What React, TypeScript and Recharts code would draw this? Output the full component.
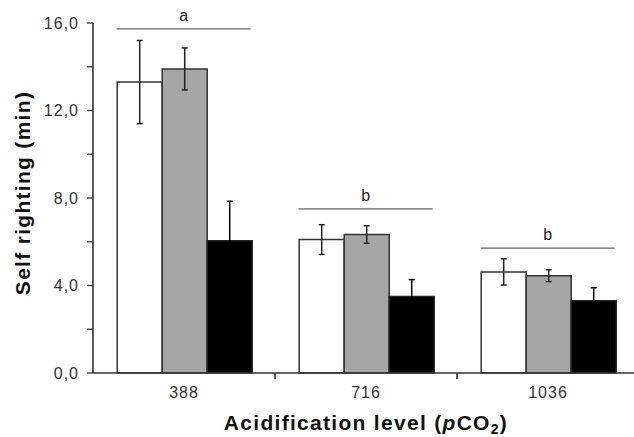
import React from 'react';
import { BarChart, Bar, XAxis, YAxis, ErrorBar, ReferenceLine, Label } from 'recharts';

const categories = ['388', '716', '1036'];
const categoryCenters = [0.5, 1.5, 2.5];
const whiteValues = [13.3, 6.1, 4.62];
const whiteErrors = [1.9, 0.68, 0.6];
const grayValues = [13.9, 6.33, 4.45];
const grayErrors = [0.96, 0.4, 0.27];
const blackValues = [6.05, 3.5, 3.3];
const blackErrors = [1.8, 0.77, 0.6];
const yTicks = [0, 2, 4, 6, 8, 10, 12, 14, 16];
const groupBoundaries = [1, 2];
const sigLabels = ['a', 'b', 'b'];
const sigHeights = [15.73, 7.5, 5.71];
const sigStart = [0.13, 1.13, 2.13];
const sigEnd = [0.866, 1.866, 2.866];

const data = categories.map((c, i) => ({
  category: c,
  pos: categoryCenters[i],
  white: whiteValues[i],
  whiteErr: whiteErrors[i],
  gray: grayValues[i],
  grayErr: grayErrors[i],
  black: blackValues[i],
  blackErr: blackErrors[i],
}));

const FONT = '"Liberation Sans", Arial, sans-serif';
const tickStyle = { fill: '#333', fontSize: 16, fontFamily: FONT, letterSpacing: 1.0 };

const fmtY = (v: number) => (v % 4 === 0 ? v.toFixed(1).replace('.', ',') : '');

const YTitle = (props: any) => {
  const vb = props.viewBox || { x: 0, y: 23, width: 93, height: 350 };
  const cx = 30;
  const cy = vb.y + vb.height / 2 - 5;
  return (
    <text
      x={cx}
      y={cy}
      transform={`rotate(-90 ${cx} ${cy})`}
      textAnchor="middle"
      fontFamily={FONT}
      fontWeight="bold"
      fontSize={21}
      letterSpacing={1.3}
      fill="#111"
    >
      Self righting (min)
    </text>
  );
};

const XTitle = (props: any) => {
  const vb = props.viewBox || { x: 93, y: 373, width: 546, height: 64 };
  const cx = vb.x + vb.width / 2;
  const cy = vb.y + 57;
  return (
    <text x={cx} y={cy} textAnchor="middle" fontFamily={FONT} fontWeight="bold" fontSize={21} letterSpacing={1.3} fill="#111">
      Acidification level (<tspan fontStyle="italic">p</tspan>CO
      <tspan fontSize={14} dy={4}>2</tspan>
      <tspan dy={-4}>)</tspan>
    </text>
  );
};

export default function App() {
  return (
    <div style={{ position: 'absolute', left: 0, top: 0, width: 634, height: 437, overflow: 'hidden', background: '#fff' }}>
      <BarChart
        width={639}
        height={437}
        data={data}
        margin={{ top: 23, right: 0, bottom: 0, left: 0 }}
        barGap={0}
        barCategoryGap="13.3%"
      >
        <XAxis
          dataKey="category"
          height={64}
          tickLine={false}
          axisLine={{ stroke: '#333', strokeWidth: 1.6 }}
          tick={tickStyle}
          tickMargin={8}
        >
          <Label content={<XTitle />} />
        </XAxis>
        <XAxis xAxisId="sig" dataKey="pos" type="number" domain={[0, 3]} allowDataOverflow hide />
        <YAxis
          width={93}
          domain={[0, 16]}
          ticks={yTicks}
          interval={0}
          tickFormatter={fmtY}
          tickSize={6}
          tickMargin={8}
          tickLine={{ stroke: '#333', strokeWidth: 1.3 }}
          axisLine={{ stroke: '#333', strokeWidth: 1.6 }}
          tick={tickStyle}
        >
          <Label content={<YTitle />} />
        </YAxis>
        <Bar dataKey="white" fill="#ffffff" stroke="#333" strokeWidth={1.5} isAnimationActive={false}>
          <ErrorBar dataKey="whiteErr" width={3} stroke="#222" strokeWidth={1.5} />
        </Bar>
        <Bar dataKey="gray" fill="#a6a6a6" stroke="#333" strokeWidth={1.5} isAnimationActive={false}>
          <ErrorBar dataKey="grayErr" width={3} stroke="#222" strokeWidth={1.5} />
        </Bar>
        <Bar dataKey="black" fill="#000000" stroke="#222" strokeWidth={1.5} isAnimationActive={false}>
          <ErrorBar dataKey="blackErr" width={3} stroke="#000" strokeWidth={1.5} />
        </Bar>
        {groupBoundaries.map((b) => (
          <ReferenceLine
            key={'t' + b}
            xAxisId="sig"
            segment={[
              { x: b, y: 0 },
              { x: b, y: -0.28 },
            ]}
            stroke="#333"
            strokeWidth={1.6}
            ifOverflow="visible"
          />
        ))}
        {sigLabels.map((lab, i) => (
          <ReferenceLine
            key={i}
            xAxisId="sig"
            segment={[
              { x: sigStart[i], y: sigHeights[i] },
              { x: sigEnd[i], y: sigHeights[i] },
            ]}
            stroke="#666"
            strokeWidth={1.3}
            ifOverflow="visible"
            label={{ value: lab, position: 'top', offset: 8, fill: '#222', fontSize: 16, fontFamily: FONT }}
          />
        ))}
      </BarChart>
    </div>
  );
}
